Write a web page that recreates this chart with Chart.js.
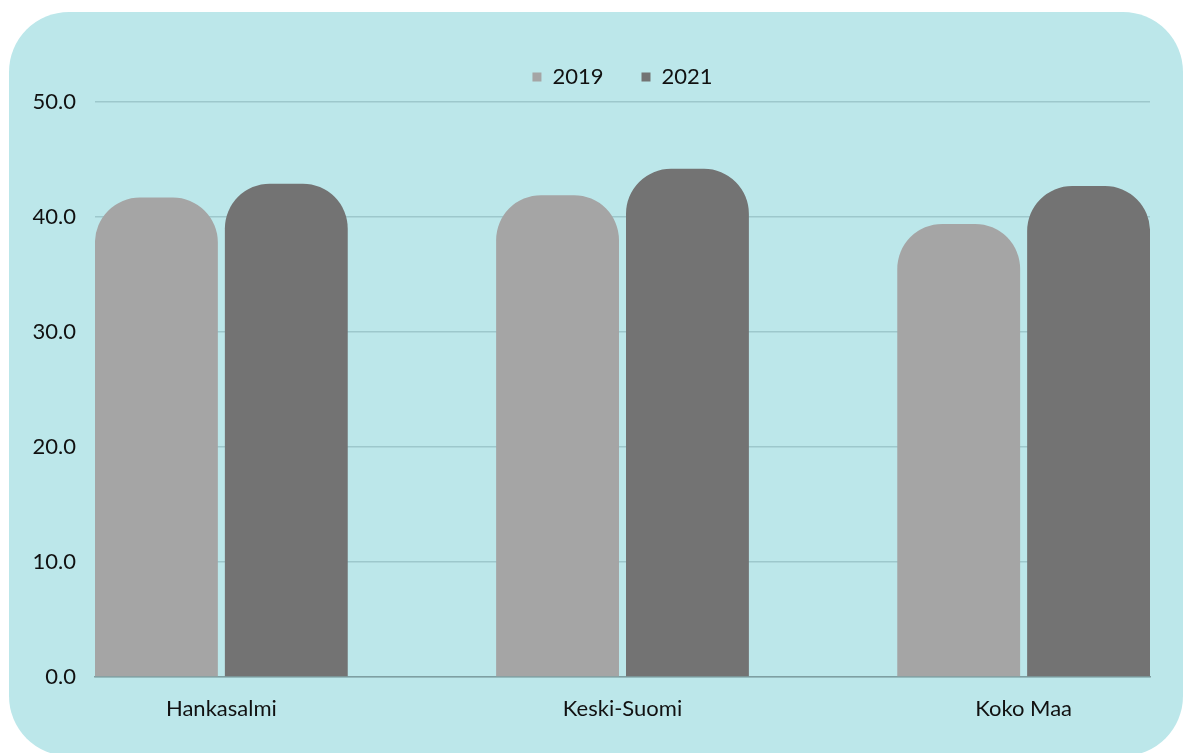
<!DOCTYPE html>
<html><head><meta charset="utf-8">
<script src="https://cdn.jsdelivr.net/npm/chart.js@4/dist/chart.umd.min.js"></script>
<style>
html,body{margin:0;padding:0;background:#fff;overflow:hidden;}
#wrap{position:relative;width:1183px;height:753px;overflow:hidden;}
#panel{position:absolute;left:9px;top:12px;width:1174px;height:744px;border-radius:60px;background:#BCE7EA;}
canvas{position:absolute;left:0;top:0;}
</style></head><body>
<div id="wrap"><div id="panel"></div><canvas id="c" width="1183" height="753"></canvas></div>
<script>
const categories = ['Hankasalmi', 'Keski-Suomi', 'Koko Maa'];
const seriesNames = ['2019', '2021'];
const values2019 = [41.7, 41.9, 39.4];
const values2021 = [42.9, 44.2, 42.7];
const yTicks = [0, 10, 20, 30, 40, 50];

const textColor = '#111111';
const font = { family: 'Lato', size: 22 };

const legendSpace = {
  id: 'legendSpace',
  afterInit(chart) {
    const lg = chart.legend;
    if (!lg) return;
    const orig = lg.fit;
    lg.fit = function () { orig.call(this); this.height += 4; };
  }
};

new Chart(document.getElementById('c'), {
  type: 'bar',
  data: {
    datasets: [
      { label: seriesNames[0], data: values2019.map((v, i) => ({ x: i, y: v })),
        backgroundColor: '#A5A5A5', borderRadius: { topLeft: 45, topRight: 45 }, borderSkipped: 'bottom' },
      { label: seriesNames[1], data: values2021.map((v, i) => ({ x: i, y: v })),
        backgroundColor: '#737373', borderRadius: { topLeft: 45, topRight: 45 }, borderSkipped: 'bottom' }
    ]
  },
  plugins: [legendSpace],
  options: {
    responsive: false,
    animation: false,
    categoryPercentage: 0.6476,
    barPercentage: 0.946,
    layout: { padding: { top: 28, right: 33, left: 0, bottom: 0 } },
    scales: {
      x: {
        type: 'linear', min: -0.315, max: 2.315, offset: false,
        grid: { display: false, offset: false },
        border: { display: true, color: '#7E9FA2', width: 1.5 },
        afterBuildTicks: s => { s.ticks = categories.map((c, i) => ({ value: i })); },
        afterFit: s => { s.height = 76; },
        ticks: { callback: v => categories[v], padding: 11, color: textColor, font: font, maxRotation: 0, autoSkip: false }
      },
      y: {
        min: 0, max: 50,
        afterBuildTicks: s => { s.ticks = yTicks.map(v => ({ value: v })); },
        afterFit: s => { s.width = 95; },
        ticks: { callback: v => Number(v).toFixed(1), padding: 19, color: textColor, font: font },
        grid: { color: '#9DC8CC', lineWidth: 1.5, drawTicks: false },
        border: { display: false }
      }
    },
    plugins: {
      legend: {
        position: 'top', fullSize: false,
        labels: { boxWidth: 9, boxHeight: 9, padding: 38, color: textColor, font: font }
      },
      tooltip: { enabled: false }
    }
  }
});
</script>
</body></html>
